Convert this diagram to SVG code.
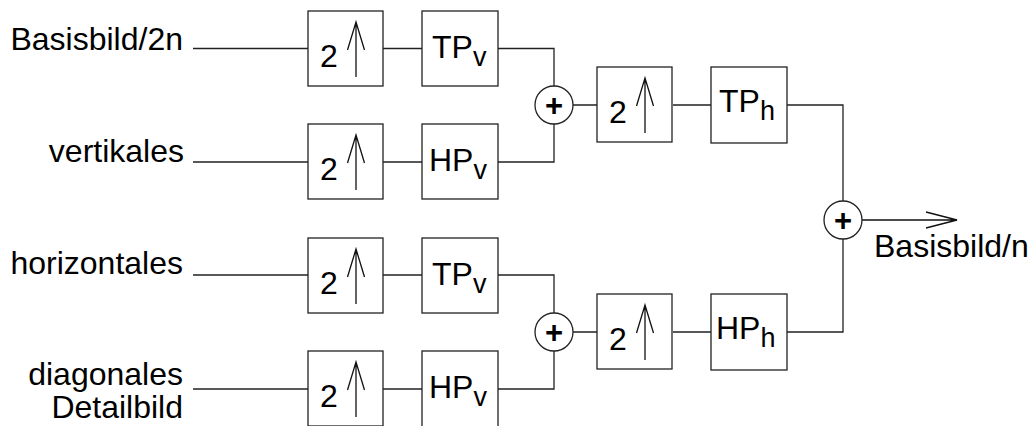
<svg xmlns="http://www.w3.org/2000/svg" width="1029" height="426" viewBox="0 0 1029 426">
<style>
.bx{fill:#fff;stroke:#222;stroke-width:1.3}
.ln{fill:none;stroke:#222;stroke-width:1.3}
.ar{fill:none;stroke:#111;stroke-width:1.3}
text{font-family:"Liberation Sans",Arial,sans-serif;font-size:32px;fill:#000}
.lbl{text-anchor:end}
.sub{font-size:27px}
.plus{font-weight:bold;font-size:31px;text-anchor:middle}
</style>
<defs>
<g id="up">
<rect class="bx" x="0" y="0" width="75" height="75"/>
<text x="12" y="56">2</text>
<path class="ar" d="M48,66 V11 M39.5,39 L48,11 L56.5,39"/>
</g>
</defs>
<g id="labels">
<text class="lbl" x="183" y="50">Basisbild/2n</text>
<text class="lbl" x="184" y="162">vertikales</text>
<text class="lbl" x="183" y="274">horizontales</text>
<text class="lbl" x="183" y="385">diagonales</text>
<text class="lbl" x="183" y="418">Detailbild</text>
<text x="874" y="257">Basisbild/n</text>
</g>
<g id="connectors">
<path class="ln" d="M193,48.5 H308 M383,48.5 H422 M498,48.5 H554 V86"/>
<path class="ln" d="M193,162 H308 M383,162 H422 M498,162 H554 V124"/>
<path class="ln" d="M193,275 H308 M383,275 H422 M498,275 H554 V313"/>
<path class="ln" d="M193,389 H308 M383,389 H422 M498,389 H554 V351"/>
<path class="ln" d="M573,105 H597 M673,105 H711 M787,105 H843 V201"/>
<path class="ln" d="M573,332 H597 M673,332 H711 M787,332 H843 V239"/>
<path class="ar" d="M862,220 H957 M926,212 L957,220 L926,228"/>
</g>
<g id="up1"><use href="#up" x="308" y="11"/></g>
<g id="up2"><use href="#up" x="308" y="124"/></g>
<g id="up3"><use href="#up" x="308" y="238"/></g>
<g id="up4"><use href="#up" x="308" y="351"/></g>
<g id="tpv1"><rect class="bx" x="422" y="11" width="76" height="75"/><text x="432" y="58">TP<tspan class="sub" dy="8">v</tspan></text></g>
<g id="hpv2"><rect class="bx" x="422" y="124" width="76" height="75"/><text x="429" y="171">HP<tspan class="sub" dy="8">v</tspan></text></g>
<g id="tpv3"><rect class="bx" x="422" y="238" width="76" height="75"/><text x="432" y="285">TP<tspan class="sub" dy="8">v</tspan></text></g>
<g id="hpv4"><rect class="bx" x="422" y="351" width="76" height="76"/><text x="429" y="398">HP<tspan class="sub" dy="8">v</tspan></text></g>
<g id="sum1"><circle class="bx" cx="554" cy="105" r="19"/><text class="plus" x="554" y="116">+</text></g>
<g id="sum2"><circle class="bx" cx="554" cy="332" r="19"/><text class="plus" x="554" y="343">+</text></g>
<g id="up5"><use href="#up" x="597" y="67"/></g>
<g id="up6"><use href="#up" x="597" y="294"/></g>
<g id="tph"><rect class="bx" x="711" y="67" width="76" height="76"/><text x="719" y="112">TP<tspan class="sub" dy="8">h</tspan></text></g>
<g id="hph"><rect class="bx" x="711" y="294" width="76" height="76"/><text x="716" y="339">HP<tspan class="sub" dy="8">h</tspan></text></g>
<g id="sum3"><circle class="bx" cx="843" cy="220" r="19"/><text class="plus" x="843" y="231">+</text></g>
</svg>
